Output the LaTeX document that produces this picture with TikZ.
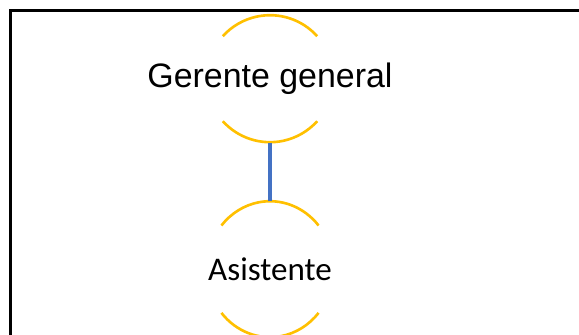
\documentclass[tikz,border=0pt]{standalone}
\usepackage{fontspec}
\setmainfont{Liberation Sans}
\newfontfamily\calibri{Carlito}
\usetikzlibrary{positioning,calc,shapes.geometric}

\begin{document}
\begin{tikzpicture}[
		puesto/.style={ellipse, draw=none, inner sep=0},
		arco/.style={draw={rgb,255:red,255;green,192;blue,0}, line width=1.5pt},
		enlace/.style={draw={rgb,255:red,68;green,114;blue,196}, line width=1.8pt},
		marco/.style={draw=black, line width=1.7pt}
	]
	\useasboundingbox (0,0) rectangle (11.58,-6.7);
	\draw[marco] (0.21,-7) |- (12,-0.21);

	\node[puesto, minimum width=2.54cm, minimum height=2.54cm] (gerente) at (5.4,-1.574)
		{\makebox[0pt]{\fontsize{19.3}{23}\selectfont Gerente general}};
	\node[puesto, minimum width=2.536cm, minimum height=2.72cm, below=1.166cm of gerente] (asistente)
		{\makebox[0pt]{\calibri\fontsize{18.8}{23}\selectfont Asistente}};

	\foreach \nodo/\rx/\ry/\t in {gerente/1.27/1.27/42, asistente/1.268/1.36/40} {
		\draw[arco] ($(\nodo.center)+(\t:\rx cm and \ry cm)$) arc[start angle=\t, delta angle=180-2*\t, x radius=\rx cm, y radius=\ry cm];
		\draw[arco] ($(\nodo.center)+(180+\t:\rx cm and \ry cm)$) arc[start angle=180+\t, delta angle=180-2*\t, x radius=\rx cm, y radius=\ry cm];
	}

	\draw[enlace] (gerente.south) -- (asistente.north);
\end{tikzpicture}
\end{document}
